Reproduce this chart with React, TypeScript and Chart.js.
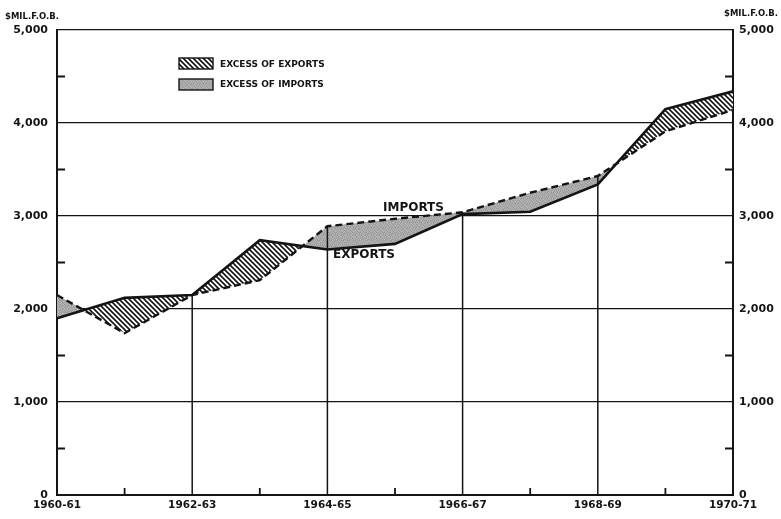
import React, { useEffect, useRef } from "react";
import { Chart, registerables } from "chart.js";

Chart.register(...registerables);

const years = [
  "1960-61", "1961-62", "1962-63", "1963-64", "1964-65", "1965-66",
  "1966-67", "1967-68", "1968-69", "1969-70", "1970-71",
];
const exportsValues = [1900, 2120, 2150, 2740, 2640, 2700, 3020, 3045, 3340, 4150, 4340];
const importsValues = [2150, 1740, 2150, 2310, 2890, 2970, 3040, 3250, 3430, 3910, 4140];
const yTicks = [0, 1000, 2000, 3000, 4000, 5000];
const yMinorTicks = [500, 1500, 2500, 3500, 4500];
const verticalGridIdx = [2, 4, 6, 8];
const minorXIdx = [1, 3, 5, 7, 9];
const unitLabel = "$MIL.F.O.B.";
const legendExports = "EXCESS OF EXPORTS";
const legendImports = "EXCESS OF IMPORTS";

const FONT = "'DejaVu Sans', sans-serif";
const INK = "#141414";

const grayShades = [
  176, 160, 190, 170, 184, 158,
  188, 168, 178, 196, 162, 180,
  166, 194, 158, 176, 190, 172,
  182, 172, 186, 164, 174, 194,
  160, 188, 170, 192, 158, 178,
  192, 174, 162, 180, 186, 166,
];

function makeHatch(): CanvasPattern {
  const c = document.createElement("canvas");
  c.width = 5;
  c.height = 5;
  const g = c.getContext("2d")!;
  g.fillStyle = "#ffffff";
  g.fillRect(0, 0, 5, 5);
  g.strokeStyle = INK;
  g.lineWidth = 1.6;
  g.beginPath();
  g.moveTo(-1, -1);
  g.lineTo(6, 6);
  g.moveTo(-1, 4);
  g.lineTo(1, 6);
  g.moveTo(4, -1);
  g.lineTo(6, 1);
  g.stroke();
  return g.createPattern(c, "repeat")!;
}

function makeGray(): CanvasPattern {
  const c = document.createElement("canvas");
  c.width = 6;
  c.height = 6;
  const g = c.getContext("2d")!;
  for (let i = 0; i < 36; i++) {
    const v = grayShades[i] - 8;
    g.fillStyle = `rgb(${v},${v},${v})`;
    g.fillRect(i % 6, Math.floor(i / 6), 1, 1);
  }
  return g.createPattern(c, "repeat")!;
}

export default function App() {
  const ref = useRef<HTMLCanvasElement | null>(null);

  useEffect(() => {
    if (!ref.current) return;
    const hatch = makeHatch();
    const gray = makeGray();

    const decor = {
      id: "decor",
      beforeDatasetsDraw(chart: any) {
        const { ctx, scales } = chart;
        const x = scales.x;
        const y = scales.y;
        const bottom = chart.chartArea.bottom;
        ctx.save();
        ctx.strokeStyle = INK;
        ctx.lineWidth = 1.5;
        verticalGridIdx.forEach((i) => {
          const px = x.getPixelForValue(i);
          const top = y.getPixelForValue(Math.max(exportsValues[i], importsValues[i]));
          ctx.beginPath();
          ctx.moveTo(px, bottom);
          ctx.lineTo(px, top);
          ctx.stroke();
        });
        ctx.restore();
      },
      afterDraw(chart: any) {
        const { ctx, scales, chartArea } = chart;
        const x = scales.x;
        const y = scales.y;
        ctx.save();
        ctx.strokeStyle = INK;
        ctx.lineWidth = 1.8;
        minorXIdx.forEach((i) => {
          const px = x.getPixelForValue(i);
          ctx.beginPath();
          ctx.moveTo(px, chartArea.bottom);
          ctx.lineTo(px, chartArea.bottom - 7);
          ctx.stroke();
        });
        yMinorTicks.forEach((v) => {
          const py = y.getPixelForValue(v);
          ctx.beginPath();
          ctx.moveTo(chartArea.left + 1, py);
          ctx.lineTo(chartArea.left + 8, py);
          ctx.moveTo(chartArea.right - 1, py);
          ctx.lineTo(chartArea.right - 8, py);
          ctx.stroke();
        });
        ctx.fillStyle = INK;
        ctx.font = `bold 8.5px ${FONT}`;
        ctx.textBaseline = "middle";
        ctx.textAlign = "left";
        ctx.fillText(unitLabel, 5, 17);
        ctx.fillText(unitLabel, 724, 14);
        const bx = 179, bw = 34, bh = 11;
        ctx.lineWidth = 1.4;
        ctx.fillStyle = hatch;
        ctx.fillRect(bx, 58, bw, bh);
        ctx.strokeRect(bx, 58, bw, bh);
        ctx.fillStyle = gray;
        ctx.fillRect(bx, 79, bw, bh);
        ctx.strokeRect(bx, 79, bw, bh);
        ctx.fillStyle = INK;
        ctx.font = `bold 9px ${FONT}`;
        ctx.fillText(legendExports, 220, 64.5);
        ctx.fillText(legendImports, 220, 85);
        ctx.font = `bold 12px ${FONT}`;
        ctx.fillText("IMPORTS", 383, 208);
        ctx.fillText("EXPORTS", 333, 255);
        ctx.restore();
      },
    };

    const tickFont = { family: FONT, size: 11, weight: "bold" as const };

    const chart = new Chart(ref.current, {
      type: "line",
      data: {
        labels: years,
        datasets: [
          {
            label: "Exports",
            data: exportsValues,
            borderColor: INK,
            borderWidth: 2.6,
            pointRadius: 0,
            tension: 0,
            fill: { target: 1, above: hatch, below: gray } as any,
          },
          {
            label: "Imports",
            data: importsValues,
            borderColor: INK,
            borderWidth: 2.4,
            borderDash: [7, 4],
            pointRadius: 0,
            tension: 0,
            fill: false,
          },
        ],
      },
      options: {
        responsive: false,
        animation: false,
        events: [],
        layout: { padding: { top: 30, left: 0, right: 0, bottom: 0 } },
        plugins: {
          legend: { display: false },
          tooltip: { enabled: false },
          title: { display: false },
          filler: { drawTime: "beforeDatasetsDraw" },
        } as any,
        scales: {
          x: {
            type: "category",
            offset: false,
            grid: { display: false, drawTicks: false },
            border: { display: true, color: INK, width: 2 },
            ticks: {
              autoSkip: false,
              maxRotation: 0,
              padding: 4,
              color: INK,
              font: { family: FONT, size: 10.5, weight: "bold" },
              callback: (_v: any, i: number) => (i % 2 === 0 ? years[i] : ""),
            },
            afterFit: (s: any) => {
              s.height = 24;
            },
          },
          y: {
            position: "left",
            min: 0,
            max: 5000,
            afterBuildTicks: (s: any) => {
              s.ticks = yTicks.map((v) => ({ value: v }));
            },
            grid: { color: INK, lineWidth: 1.2, drawTicks: false },
            border: { display: true, color: INK, width: 2 },
            ticks: {
              padding: 9,
              color: INK,
              font: tickFont,
              callback: (v: any) => Number(v).toLocaleString("en-US"),
            },
            afterFit: (s: any) => {
              s.width = 57;
            },
          },
          y2: {
            position: "right",
            min: 0,
            max: 5000,
            afterBuildTicks: (s: any) => {
              s.ticks = yTicks.map((v) => ({ value: v }));
            },
            grid: { display: false, drawTicks: false },
            border: { display: true, color: INK, width: 2 },
            ticks: {
              padding: 6,
              color: INK,
              font: tickFont,
              callback: (v: any) => Number(v).toLocaleString("en-US"),
            },
            afterFit: (s: any) => {
              s.width = 48;
            },
          },
        },
      },
      plugins: [decor],
    });
    return () => chart.destroy();
  }, []);

  return (
    <div
      style={{
        position: "fixed",
        left: 0,
        top: 0,
        width: 781,
        height: 519,
        background: "#ffffff",
      }}
    >
      <canvas ref={ref} width={781} height={519} style={{ display: "block" }} />
    </div>
  );
}
